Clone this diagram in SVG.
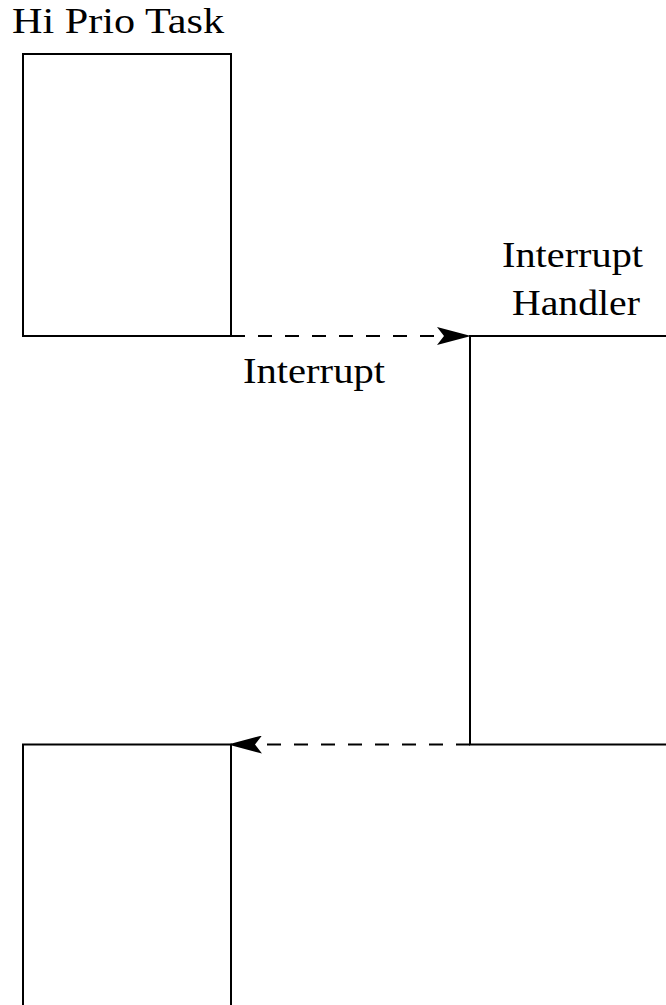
<svg xmlns="http://www.w3.org/2000/svg" width="666" height="1005" viewBox="0 0 666 1005">
<style>
.ln{fill:none;stroke:#000;stroke-width:2}
.dash{fill:none;stroke:#000;stroke-width:2;stroke-dasharray:14 13}
.t{font-family:"Liberation Serif","Times New Roman",serif;font-size:36px;fill:#000}
</style>
<defs>
<marker id="ah" markerUnits="userSpaceOnUse" viewBox="0 0 34 18" refX="33" refY="9" markerWidth="34" markerHeight="18" orient="auto">
<path d="M0,0 L34,9 L0,18 L7,9 Z" fill="#000"/>
</marker>
</defs>
<rect width="666" height="1005" fill="#fff"/>
<g id="hi-prio-task">
<path class="ln" d="M23,336 V54 H231 V336 Z"/>
<text class="t" x="12" y="33" textLength="212" lengthAdjust="spacingAndGlyphs">Hi Prio Task</text>
</g>
<g id="interrupt-handler">
<path class="ln" d="M666,336 H470 V744.5 H666"/>
<text class="t" x="502" y="267" textLength="141" lengthAdjust="spacingAndGlyphs">Interrupt</text>
<text class="t" x="512" y="315" textLength="128" lengthAdjust="spacingAndGlyphs">Handler</text>
</g>
<g id="hi-prio-task-resumed">
<path class="ln" d="M23,1006 V744.5 H231 V1006"/>
</g>
<g id="connectors">
<line class="dash" x1="231" y1="336" x2="470" y2="336" marker-end="url(#ah)"/>
<line class="dash" x1="470" y1="744.5" x2="229" y2="744.5" marker-end="url(#ah)"/>
<text class="t" x="243" y="383" textLength="142" lengthAdjust="spacingAndGlyphs">Interrupt</text>
</g>
</svg>
